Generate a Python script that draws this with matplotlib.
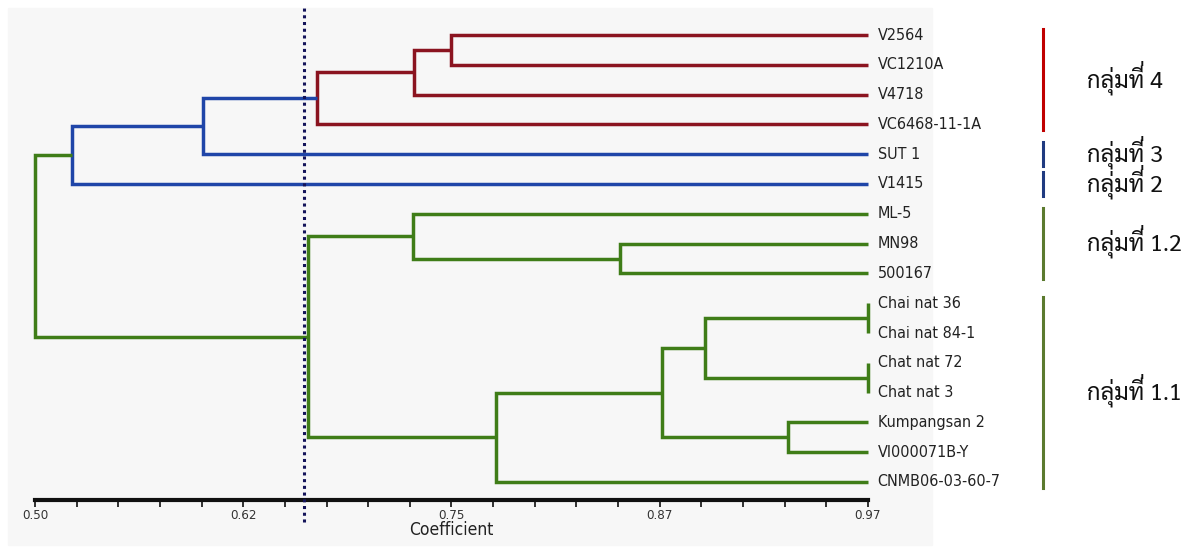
import matplotlib
matplotlib.use('Agg')
import matplotlib.pyplot as plt
from matplotlib import font_manager
from matplotlib.patches import Rectangle
from matplotlib.transforms import offset_copy

# ชื่อพันธุ์ (บนลงล่าง)
leaves = ['V2564', 'VC1210A', 'V4718', 'VC6468-11-1A', 'SUT 1', 'V1415',
          'ML-5', 'MN98', '500167', 'Chai nat 36', 'Chai nat 84-1',
          'Chat nat 72', 'Chat nat 3', 'Kumpangsan 2', 'VI000071B-Y',
          'CNMB06-03-60-7']

# การรวมกลุ่ม: ลูกซ้าย, ลูกขวา (int = ใบ, 'nX' = โหนดก่อนหน้า), ค่าสัมประสิทธิ์, สี
merge_left = [0, 'n0', 'n1', 'n2', 'n3', 7, 6, 9, 11, 'n7', 13, 'n9', 'n11', 'n6', 'n4']
merge_right = [1, 2, 3, 4, 5, 8, 'n5', 10, 12, 'n8', 14, 'n10', 15, 'n12', 'n13']
merge_sim = [0.735, 0.714, 0.659, 0.595, 0.521, 0.830, 0.713, 0.97, 0.97,
             0.878, 0.925, 0.854, 0.760, 0.654, 0.50]
merge_col = ['r', 'r', 'r', 'b', 'b', 'g', 'g', 'g', 'g', 'g', 'g', 'g', 'g', 'g', 'g']

cut_value = 0.652

# กลุ่มทางขวา
group_labels = ['กลุ่มที่ 4', 'กลุ่มที่ 3', 'กลุ่มที่ 2', 'กลุ่มที่ 1.2', 'กลุ่มที่ 1.1']
group_first = [0, 4, 5, 6, 9]
group_last = [3, 4, 5, 8, 15]
group_col = ['#c00000', '#1f3a80', '#1f3a80', '#5b7a2e', '#5b7a2e']

tick_vals = [0.50 + i * (0.97 - 0.50) / 20 for i in range(21)]
tick_text = ['0.50', '0.62', '0.75', '0.87', '0.97']

colors = {'r': '#8b1420', 'b': '#1f45a8', 'g': '#3f7d18'}

# เลือกฟอนต์ไทยที่มีในเครื่อง
installed = set(f.name for f in font_manager.fontManager.ttflist)
thai_font = 'DejaVu Sans'
for name in ['Sarabun', 'Noto Sans Thai Looped', 'IBM Plex Sans Thai Looped',
             'Thasadith', 'Niramit', 'K2D', 'Krub', 'KoHo',
             'Noto Sans Thai', 'Anuphan']:
    if name in installed:
        thai_font = name
        break

W, H = 1195, 548
fig = plt.figure(figsize=(W / 100, H / 100), dpi=100)
fig.patches.append(Rectangle((8 / W, 3 / H), 924 / W, 537 / H, transform=fig.transFigure,
                             color='#f7f7f7', zorder=-10))

ax = fig.add_axes([35 / W, (H - 500) / H, 833 / W, 480 / H])
ax.patch.set_alpha(0)
ax.set_xlim(0.50, 0.97)
ax.set_ylim((500 - 35) / 29.8, (20 - 35) / 29.8)

# วาด dendrogram
pos = {}
for i, (l, r, s, c) in enumerate(zip(merge_left, merge_right, merge_sim, merge_col)):
    xl, yl = (0.97, l) if isinstance(l, int) else pos[l]
    xr, yr = (0.97, r) if isinstance(r, int) else pos[r]
    ax.plot([xl, s, s, xr], [yl, yl, yr, yr], color=colors[c], lw=2.5,
            solid_joinstyle='miter', solid_capstyle='butt', clip_on=False, zorder=3)
    pos['n%d' % i] = (s, (yl + yr) / 2)

for i, name in enumerate(leaves):
    ax.text(0.9755, i, name, fontsize=11.5, va='center', ha='left',
            family='DejaVu Sans', stretch='condensed', color='#222222')

# เส้นตัด
ax.axvline(cut_value, ymin=-0.045, ymax=1.025, color='#14145a', lw=2.2,
           ls=(0, (1, 1.2)), clip_on=False, zorder=4)

# แกน x
for side in ['left', 'right', 'top']:
    ax.spines[side].set_visible(False)
ax.spines['bottom'].set_linewidth(3)
ax.spines['bottom'].set_color('#111111')
ax.set_yticks([])
ax.set_xticks(tick_vals)
ax.set_xticklabels([tick_text[i // 5] if i % 5 == 0 else '' for i in range(21)],
                   fontsize=9.5, color='#333333', family='DejaVu Sans', stretch='condensed')
ax.tick_params(axis='x', direction='out', length=5, width=1.3, color='#222222', pad=1.5)
ax.set_xlabel('Coefficient', fontsize=12.5, color='#222222', labelpad=-1,
              family='DejaVu Sans', stretch='condensed')

# วงเล็บกลุ่มทางขวา
tr = ax.get_yaxis_transform()
bx = (1043 - 35) / 833
tx = bx + 44 / 833
thai_kw = dict(fontsize=17, va='baseline', ha='left', family=[thai_font, 'DejaVu Sans'],
               color='#111111')
marks = []
for lab, a, b, c in zip(group_labels, group_first, group_last, group_col):
    ext = 0.4 if a == b else 0.2
    ax.plot([bx, bx], [a - ext, b + ext], color=c, lw=2.2, transform=tr, clip_on=False)
    yb = (a + b) / 2 + 0.28
    # matplotlib ไม่จัดวางวรรณยุกต์ซ้อนสระ: วาดไม้เอกของ "ที่" แยกให้ยกสูงขึ้น
    k = lab.rfind('\u0e48')
    ax.text(tx, yb, lab[:k] + lab[k + 1:], transform=tr, **thai_kw)
    probe = ax.text(tx, yb, lab[:k], transform=tr, **thai_kw)
    marks.append((probe, yb))

fig.canvas.draw()
for probe, yb in marks:
    x1 = probe.get_window_extent().x1
    probe.remove()
    xa = ax.transAxes.inverted().transform((x1, 0))[0]
    ax.text(xa, yb, '\u0e48', transform=offset_copy(tr, fig=fig, x=0, y=6, units='dots'),
            **thai_kw)

fig.savefig('out.png', dpi=100)
